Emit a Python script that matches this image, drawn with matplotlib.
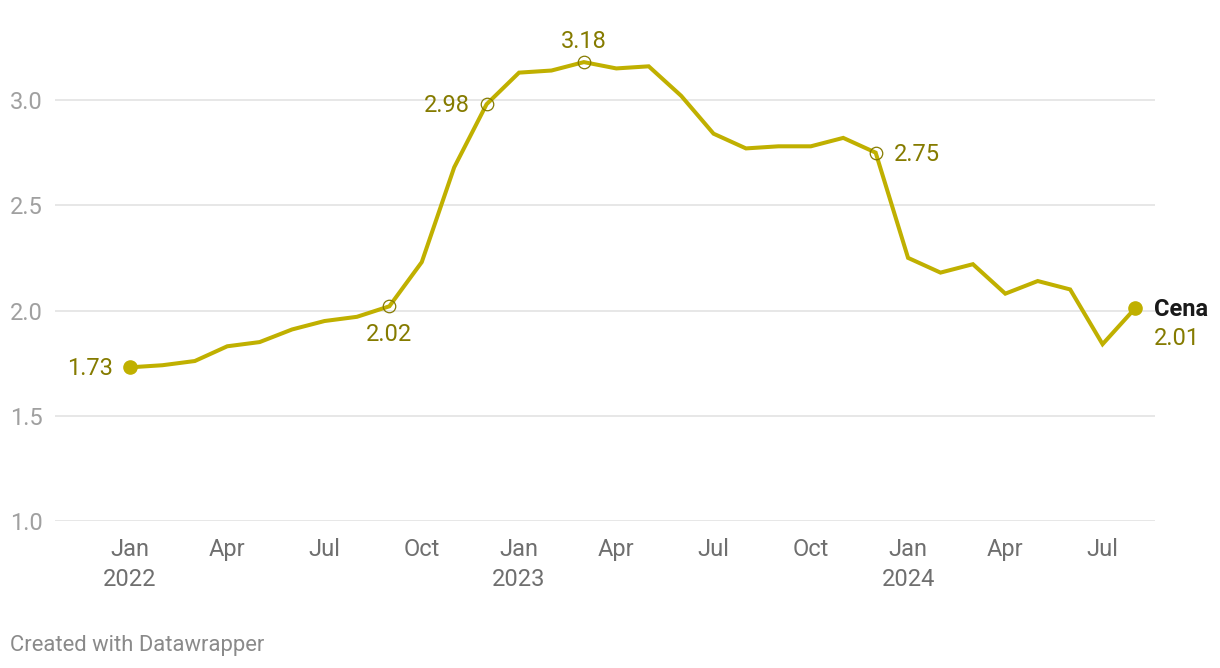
import matplotlib
matplotlib.use("Agg")
import matplotlib.pyplot as plt

months = ["Jan 2022", "Feb 2022", "Mar 2022", "Apr 2022", "May 2022", "Jun 2022",
          "Jul 2022", "Aug 2022", "Sep 2022", "Oct 2022", "Nov 2022", "Dec 2022",
          "Jan 2023", "Feb 2023", "Mar 2023", "Apr 2023", "May 2023", "Jun 2023",
          "Jul 2023", "Aug 2023", "Sep 2023", "Oct 2023", "Nov 2023", "Dec 2023",
          "Jan 2024", "Feb 2024", "Mar 2024", "Apr 2024", "May 2024", "Jun 2024",
          "Jul 2024", "Aug 2024"]
cena = [1.73, 1.74, 1.76, 1.83, 1.85, 1.91, 1.95, 1.97, 2.02, 2.23, 2.68, 2.98,
        3.13, 3.14, 3.18, 3.15, 3.16, 3.02, 2.84, 2.77, 2.78, 2.78, 2.82, 2.75,
        2.25, 2.18, 2.22, 2.08, 2.14, 2.10, 1.84, 2.01]
tick_idx = [0, 3, 6, 9, 12, 15, 18, 21, 24, 27, 30]
tick_labels = ["Jan\n2022", "Apr", "Jul", "Oct", "Jan\n2023", "Apr", "Jul", "Oct",
               "Jan\n2024", "Apr", "Jul"]
y_ticks = [1.0, 1.5, 2.0, 2.5, 3.0]
y_labels = ["1.0", "1.5", "2.0", "2.5", "3.0"]
annots = [(8, "2.02"), (11, "2.98"), (14, "3.18"), (23, "2.75")]

plt.rcParams['font.family'] = ['Roboto', 'DejaVu Sans']

LINE = "#c0b000"
DARK = "#857b00"

fig = plt.figure(figsize=(12.2, 6.68), dpi=100)
ax = fig.add_axes([55/1220, (668-521)/668, 1100/1220, 501/668])

x = list(range(len(cena)))
ax.plot(x, cena, color=LINE, lw=2.9, solid_joinstyle='miter', zorder=3)
ax.plot([x[0], x[-1]], [cena[0], cena[-1]], 'o', color=LINE, ms=9.5, zorder=4)

for i, lab in annots:
    ax.plot(x[i], cena[i], 'o', ms=9, mfc='none', mec=DARK, mew=0.9, zorder=5)

pt = 0.72
def ann(i, text, dx, dy, ha, va, **kw):
    ax.annotate(text, (x[i], cena[i]), xytext=(dx*pt, dy*pt), textcoords='offset points',
                ha=ha, va=va, fontsize=17, color=kw.pop('color', DARK), **kw)

ann(0, "1.73", -17, -1, 'right', 'center')
ann(8, "2.02", 0, -28, 'center', 'center')
ann(11, "2.98", -17, -1, 'right', 'center')
ann(14, "3.18", 0, 21, 'center', 'center')
ann(23, "2.75", 18, -2, 'left', 'center')
ann(31, "Cena", 19, -1, 'left', 'center', color='#1a1a1a', fontweight='bold')
ann(31, "2.01", 19, -30, 'left', 'center')

ax.set_xlim((55-130)/32.42, 31 + (1155-1135)/32.42)
ax.set_ylim(1.0, 3.0 + 80/210.5)

for yv in y_ticks:
    ax.axhline(yv, color="#e3e3e3", lw=1.2, zorder=1)

ax.set_yticks(y_ticks)
ax.set_yticklabels(y_labels)
ax.set_xticks(tick_idx)
ax.set_xticklabels(tick_labels, linespacing=1.38)
ax.tick_params(axis='y', length=0, pad=9, labelsize=17, labelcolor="#a0a0a0")
ax.tick_params(axis='x', length=0, pad=12, labelsize=17, labelcolor="#6f6f6f")
for lab in ax.get_xticklabels():
    lab.set_verticalalignment('top')
for s in ax.spines.values():
    s.set_visible(False)
ax.grid(False)

fig.text(10/1220, 1 - 645/668, "Created with Datawrapper", fontsize=15.8,
         color="#8a8a8a", ha='left', va='center')

fig.savefig("out.png", dpi=100)
